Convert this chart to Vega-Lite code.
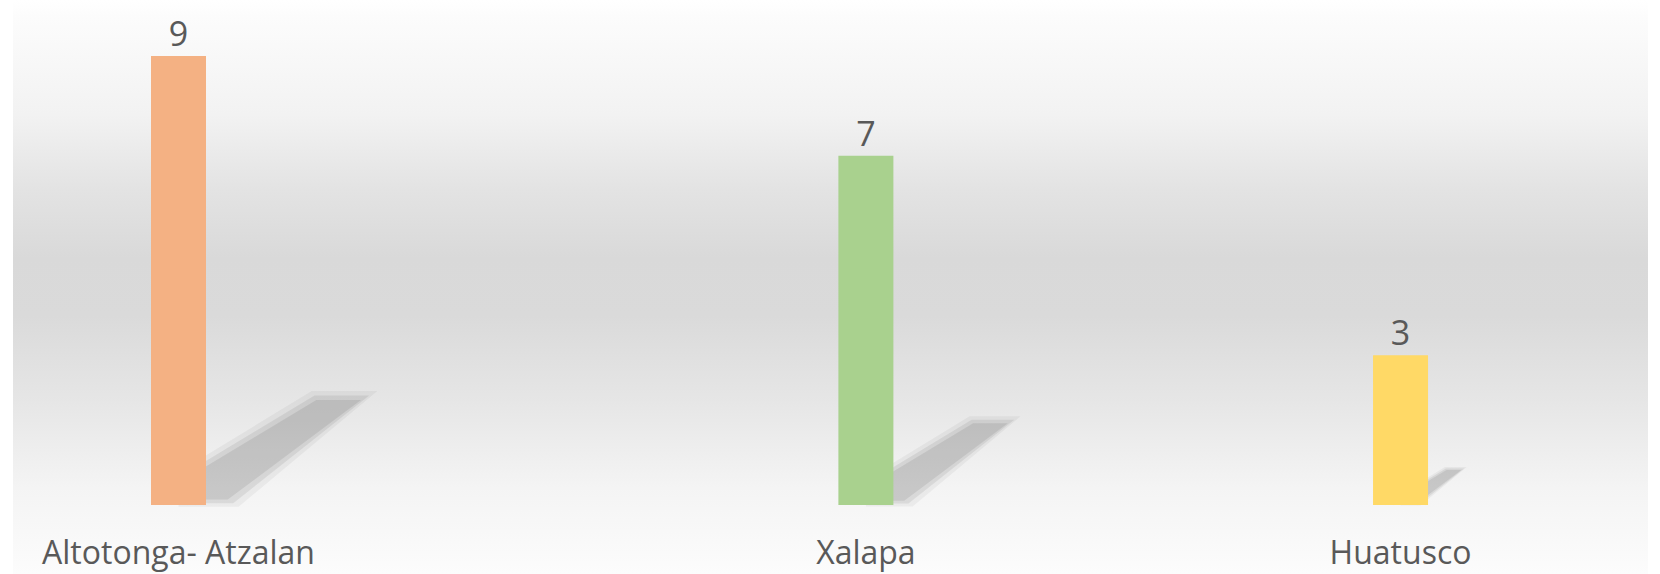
{
  "$schema": "https://vega.github.io/schema/vega-lite/v6.json",
  "width": 1635,
  "height": 574,
  "autosize": {"type": "none"},
  "padding": {"left": 13, "right": 12, "top": 0, "bottom": 0},
  "background": "#ffffff",
  "config": {
    "view": {
      "stroke": null,
      "fill": {
        "gradient": "linear",
        "x1": 0, "y1": 0, "x2": 0, "y2": 1,
        "stops": [
          {"offset": 0, "color": "#ffffff"},
          {"offset": 0.03, "color": "#fcfcfc"},
          {"offset": 0.2, "color": "#f2f2f2"},
          {"offset": 0.33, "color": "#e3e3e3"},
          {"offset": 0.45, "color": "#d9d9d9"},
          {"offset": 0.55, "color": "#dadada"},
          {"offset": 0.7, "color": "#e6e6e6"},
          {"offset": 0.85, "color": "#f4f4f4"},
          {"offset": 1, "color": "#fcfcfc"}
        ]
      }
    },
    "axisX": {
      "title": null,
      "domain": false,
      "ticks": false,
      "tickSize": 0,
      "grid": false,
      "labelAngle": 0,
      "labelFont": "Open Sans",
      "labelFontSize": 32,
      "labelColor": "#595959",
      "labelBaseline": "alphabetic",
      "labelPadding": 9,
      "offset": -20,
      "labelOverlap": false,
      "labelBound": false,
      "labelLimit": 0
    }
  },
  "data": {
    "values": [
      {"municipio": "Altotonga- Atzalan", "valor": 9},
      {"municipio": "Xalapa", "valor": 7},
      {"municipio": "Huatusco", "valor": 3}
    ]
  },
  "encoding": {
    "x": {
      "field": "municipio",
      "type": "nominal",
      "sort": null,
      "scale": {
        "domain": [" ", "Altotonga- Atzalan", "  ", "   ", "    ", "     ", "      ", "       ", "        ", "         ", "Xalapa", "          ", "           ", "            ", "             ", "              ", "               ", "Huatusco", "                ", "                 "],
        "paddingInner": 0,
        "paddingOuter": 0.7035,
        "align": 0.474
      }
    },
    "y": {
      "field": "valor",
      "type": "quantitative",
      "scale": {"domain": [-1.383, 10.123], "nice": false, "zero": false},
      "axis": null
    }
  },
  "layer": [
    {
      "mark": {
        "type": "point",
        "shape": "M0,2.47 L0,2.28 L0.73,1.835 L1.09,1.835 L0.33,2.47 Z",
        "filled": true,
        "fill": "#000000",
        "fillOpacity": 0.045,
        "strokeWidth": 0
      },
      "encoding": {
        "size": {
          "field": "valor",
          "type": "quantitative",
          "scale": {"type": "pow", "exponent": 2, "domain": [0, 9], "range": [0, 133225]},
          "legend": null
        }
      }
    },
    {
      "mark": {
        "type": "point",
        "shape": "M0,2.45 L0,2.31 L0.745,1.86 L1.045,1.86 L0.3,2.45 Z",
        "filled": true,
        "fill": "#000000",
        "fillOpacity": 0.07,
        "strokeWidth": 0
      },
      "encoding": {
        "size": {"field": "valor", "type": "quantitative", "legend": null}
      }
    },
    {
      "mark": {
        "type": "point",
        "shape": "M0,2.43 L0,2.34 L0.755,1.885 L1.0,1.885 L0.27,2.43 Z",
        "filled": true,
        "fill": "#000000",
        "fillOpacity": 0.08,
        "strokeWidth": 0
      },
      "encoding": {
        "size": {"field": "valor", "type": "quantitative", "legend": null}
      }
    },
    {
      "mark": {"type": "bar", "width": 55},
      "encoding": {
        "color": {
          "field": "municipio",
          "type": "nominal",
          "scale": {"domain": ["Altotonga- Atzalan", "Xalapa", "Huatusco"], "range": ["#F4B183", "#A9D18E", "#FFD966"]},
          "legend": null
        }
      }
    },
    {
      "mark": {
        "type": "text",
        "baseline": "alphabetic",
        "align": "center",
        "dy": -10,
        "font": "Open Sans",
        "fontSize": 34,
        "color": "#595959"
      },
      "encoding": {
        "text": {"field": "valor", "type": "quantitative"}
      }
    }
  ]
}
